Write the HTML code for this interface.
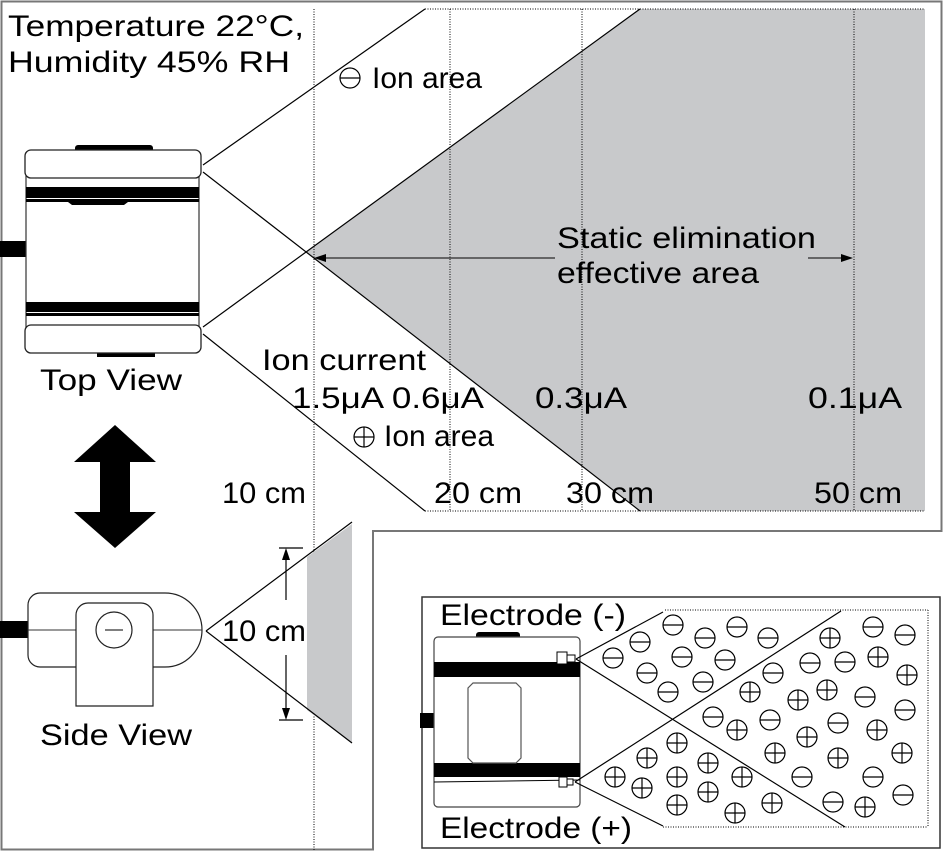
<!DOCTYPE html>
<html><head><meta charset="utf-8"><style>
html,body{margin:0;padding:0;background:#fff}
svg{display:block}
text{font-family:"Liberation Sans",Arial,sans-serif;fill:#000}
</style></head><body>
<svg width="944" height="851" viewBox="0 0 944 851" xmlns="http://www.w3.org/2000/svg">
<path d="M1.5 1.5 H941.5 V531 H373 V849.5 H1.5 Z" fill="#fff" stroke="#777" stroke-width="2"/>

<polygon points="306,252 640,9 925,9 925,511 640,511" fill="#c8c9cb"/>
<g stroke="#000" stroke-width="1" stroke-dasharray="1,1.5" fill="none">
<line x1="425" y1="9" x2="925" y2="9"/>
<line x1="425" y1="511" x2="925" y2="511"/>
<line x1="314" y1="9" x2="314" y2="850"/>
<line x1="450" y1="9" x2="450" y2="511"/>
<line x1="582" y1="9" x2="582" y2="511"/>
<line x1="854" y1="9" x2="854" y2="511"/>
</g>
<g stroke="#000" stroke-width="1.2" fill="none">
<line x1="203" y1="165" x2="425" y2="9"/>
<line x1="203" y1="172" x2="640" y2="511"/>
<line x1="203" y1="327" x2="640" y2="9"/>
<line x1="203" y1="334" x2="425" y2="511"/>
</g>
<g stroke="#444" stroke-width="1.5">
<line x1="322" y1="258" x2="555" y2="258"/>
<line x1="808" y1="258" x2="846" y2="258"/>
</g>
<polygon points="314,258 326,254 326,262" fill="#000"/>
<polygon points="853,258 841,254 841,262" fill="#000"/>

<g font-size="30">
<text x="8" y="36" textLength="296" lengthAdjust="spacingAndGlyphs">Temperature 22°C,</text>
<text x="8" y="72" textLength="282" lengthAdjust="spacingAndGlyphs">Humidity 45% RH</text>
<text x="557" y="248" textLength="259" lengthAdjust="spacingAndGlyphs">Static elimination</text>
<text x="557" y="283" textLength="202" lengthAdjust="spacingAndGlyphs">effective area</text>
<text x="262" y="370" textLength="164" lengthAdjust="spacingAndGlyphs">Ion current</text>
<text x="292" y="408" textLength="192" lengthAdjust="spacingAndGlyphs">1.5μA 0.6μA</text>
<text x="535" y="408" textLength="92" lengthAdjust="spacingAndGlyphs">0.3μA</text>
<text x="808" y="408" textLength="94" lengthAdjust="spacingAndGlyphs">0.1μA</text>
<text x="372" y="88" textLength="110" lengthAdjust="spacingAndGlyphs">Ion area</text>
<text x="384" y="446" textLength="110" lengthAdjust="spacingAndGlyphs">Ion area</text>
<text x="222" y="503" textLength="84" lengthAdjust="spacingAndGlyphs">10 cm</text>
<text x="434" y="503" textLength="88" lengthAdjust="spacingAndGlyphs">20 cm</text>
<text x="566" y="503" textLength="88" lengthAdjust="spacingAndGlyphs">30 cm</text>
<text x="814" y="503" textLength="88" lengthAdjust="spacingAndGlyphs">50 cm</text>
<text x="40" y="390" textLength="142" lengthAdjust="spacingAndGlyphs">Top View</text>
<text x="40" y="745" textLength="152" lengthAdjust="spacingAndGlyphs">Side View</text>
<text x="222" y="641" textLength="84" lengthAdjust="spacingAndGlyphs">10 cm</text>
</g>
<g stroke="#000" stroke-width="1.2" fill="none">
<circle cx="350" cy="78" r="10"/><line x1="340" y1="78" x2="360" y2="78"/>
<circle cx="364" cy="437" r="10"/><line x1="354" y1="437" x2="374" y2="437"/><line x1="364" y1="427" x2="364" y2="447"/>
</g>

<rect x="75" y="145" width="78" height="8" rx="3" fill="#000"/>
<rect x="97" y="348" width="58" height="9" fill="#000"/>
<rect x="0" y="241" width="27" height="16" fill="#000"/>
<rect x="26" y="176" width="173" height="152" fill="#fff" stroke="#333" stroke-width="1.2"/>
<rect x="26" y="187" width="173" height="11" fill="#000"/>
<rect x="26" y="199" width="173" height="3" fill="#000"/>
<rect x="26" y="302" width="173" height="10" fill="#000"/>
<rect x="26" y="313" width="173" height="3" fill="#000"/>
<path d="M68 202 L72 205 H124 L128 202 Z" fill="#000"/>
<rect x="25" y="150" width="176" height="28" rx="6" fill="#fff" stroke="#222" stroke-width="1.3"/>
<rect x="25" y="325" width="176" height="28" rx="6" fill="#fff" stroke="#222" stroke-width="1.3"/>

<polygon points="115,425 156,462 130,462 130,512 156,512 115,548 74,512 100,512 100,462 74,462" fill="#000"/>

<rect x="0" y="621" width="28" height="17" fill="#000"/>
<path d="M40 593 H165 A37 37 0 0 1 165 667 H40 A12 12 0 0 1 28 655 V605 A12 12 0 0 1 40 593 Z" fill="#fff" stroke="#222" stroke-width="1.2"/>
<line x1="28" y1="630" x2="202" y2="630" stroke="#333" stroke-width="1"/>
<path d="M76 706 V615 A12 12 0 0 1 88 603 H141 A12 12 0 0 1 153 615 V706 Z" fill="#fff" stroke="#222" stroke-width="1.2"/>
<circle cx="114" cy="630" r="18" fill="#fff" stroke="#222" stroke-width="1.2"/>
<line x1="105" y1="630" x2="123" y2="630" stroke="#333" stroke-width="1.2"/>
<polygon points="307,557 352,524 352,743 307,710" fill="#c8c9cb"/>
<g stroke="#000" stroke-width="1.2" fill="none">
<line x1="206" y1="631" x2="352" y2="522"/>
<line x1="206" y1="631" x2="352" y2="743"/>
<line x1="279" y1="548" x2="303" y2="548"/>
<line x1="279" y1="720" x2="303" y2="720"/>
<line x1="286" y1="556" x2="286" y2="600"/>
<line x1="286" y1="655" x2="286" y2="712"/>
</g>
<polygon points="286,548 282,560 290,560" fill="#000"/>
<polygon points="286,720 282,708 290,708" fill="#000"/>

<rect x="422" y="597" width="518" height="251" fill="#fff" stroke="#333" stroke-width="1.5"/>
<text x="440" y="625" font-size="30" textLength="186" lengthAdjust="spacingAndGlyphs">Electrode (-)</text>
<text x="440" y="838" font-size="30" textLength="192" lengthAdjust="spacingAndGlyphs">Electrode (+)</text>
<rect x="476" y="632" width="44" height="7" rx="3" fill="#000"/>
<rect x="420" y="713" width="14" height="15" fill="#000"/>
<rect x="434" y="637" width="146" height="170" rx="4" fill="#fff" stroke="#444" stroke-width="1.2"/>
<rect x="434" y="662" width="146" height="15" fill="#000"/>
<rect x="434" y="763" width="146" height="14" fill="#000"/>
<line x1="434" y1="782" x2="580" y2="780" stroke="#000" stroke-width="1"/>
<path d="M473 683 H516 L521 688 V758 L516 763 H473 L468 758 V688 Z" fill="#fff" stroke="#555" stroke-width="1.2"/>
<rect x="557" y="652" width="10" height="12" fill="#fff" stroke="#000"/>
<rect x="567" y="655" width="8" height="7" fill="#fff" stroke="#000"/>
<rect x="559" y="777" width="8" height="10" fill="#fff" stroke="#000"/>
<rect x="567" y="779" width="6" height="6" fill="#fff" stroke="#000"/>
<g stroke="#000" stroke-width="1" stroke-dasharray="1,1.5" fill="none">
<line x1="665" y1="610" x2="928" y2="610"/>
<line x1="928" y1="610" x2="928" y2="827"/>
<line x1="663" y1="827" x2="928" y2="827"/>
</g>
<g stroke="#000" stroke-width="1.2" fill="none">
<line x1="576" y1="659" x2="663" y2="612"/>
<line x1="576" y1="659" x2="845" y2="827"/>
<line x1="575" y1="782" x2="841" y2="611"/>
<line x1="575" y1="782" x2="663" y2="826"/>
</g>
<g stroke="#000" stroke-width="1.2" fill="#fff">
<g>
<circle cx="613" cy="658" r="10"/><line x1="603" y1="658" x2="623" y2="658"/>
<circle cx="640" cy="642" r="10"/><line x1="630" y1="642" x2="650" y2="642"/>
<circle cx="673" cy="625" r="10"/><line x1="663" y1="625" x2="683" y2="625"/>
<circle cx="705" cy="638" r="10"/><line x1="695" y1="638" x2="715" y2="638"/>
<circle cx="737" cy="627" r="10"/><line x1="727" y1="627" x2="747" y2="627"/>
<circle cx="768" cy="638" r="10"/><line x1="758" y1="638" x2="778" y2="638"/>
<circle cx="647" cy="673" r="10"/><line x1="637" y1="673" x2="657" y2="673"/>
<circle cx="682" cy="657" r="10"/><line x1="672" y1="657" x2="692" y2="657"/>
<circle cx="725" cy="660" r="10"/><line x1="715" y1="660" x2="735" y2="660"/>
<circle cx="668" cy="692" r="10"/><line x1="658" y1="692" x2="678" y2="692"/>
<circle cx="703" cy="682" r="10"/><line x1="693" y1="682" x2="713" y2="682"/>
<circle cx="810" cy="663" r="10"/><line x1="800" y1="663" x2="820" y2="663"/>
<circle cx="773" cy="673" r="10"/><line x1="763" y1="673" x2="783" y2="673"/>
<circle cx="845" cy="662" r="10"/><line x1="835" y1="662" x2="855" y2="662"/>
<circle cx="873" cy="627" r="10"/><line x1="863" y1="627" x2="883" y2="627"/>
<circle cx="905" cy="635" r="10"/><line x1="895" y1="635" x2="915" y2="635"/>
<circle cx="865" cy="697" r="10"/><line x1="855" y1="697" x2="875" y2="697"/>
<circle cx="905" cy="710" r="10"/><line x1="895" y1="710" x2="915" y2="710"/>
<circle cx="713" cy="717" r="10"/><line x1="703" y1="717" x2="723" y2="717"/>
<circle cx="770" cy="720" r="10"/><line x1="760" y1="720" x2="780" y2="720"/>
<circle cx="838" cy="723" r="10"/><line x1="828" y1="723" x2="848" y2="723"/>
<circle cx="802" cy="777" r="10"/><line x1="792" y1="777" x2="812" y2="777"/>
<circle cx="873" cy="777" r="10"/><line x1="863" y1="777" x2="883" y2="777"/>
<circle cx="833" cy="802" r="10"/><line x1="823" y1="802" x2="843" y2="802"/>
<circle cx="903" cy="795" r="10"/><line x1="893" y1="795" x2="913" y2="795"/>
</g>
<g>
<circle cx="830" cy="638" r="10"/><line x1="820" y1="638" x2="840" y2="638"/><line x1="830" y1="628" x2="830" y2="648"/>
<circle cx="878" cy="657" r="10"/><line x1="868" y1="657" x2="888" y2="657"/><line x1="878" y1="647" x2="878" y2="667"/>
<circle cx="907" cy="675" r="10"/><line x1="897" y1="675" x2="917" y2="675"/><line x1="907" y1="665" x2="907" y2="685"/>
<circle cx="750" cy="692" r="10"/><line x1="740" y1="692" x2="760" y2="692"/><line x1="750" y1="682" x2="750" y2="702"/>
<circle cx="798" cy="700" r="10"/><line x1="788" y1="700" x2="808" y2="700"/><line x1="798" y1="690" x2="798" y2="710"/>
<circle cx="827" cy="690" r="10"/><line x1="817" y1="690" x2="837" y2="690"/><line x1="827" y1="680" x2="827" y2="700"/>
<circle cx="737" cy="730" r="10"/><line x1="727" y1="730" x2="747" y2="730"/><line x1="737" y1="720" x2="737" y2="740"/>
<circle cx="807" cy="737" r="10"/><line x1="797" y1="737" x2="817" y2="737"/><line x1="807" y1="727" x2="807" y2="747"/>
<circle cx="877" cy="730" r="10"/><line x1="867" y1="730" x2="887" y2="730"/><line x1="877" y1="720" x2="877" y2="740"/>
<circle cx="775" cy="753" r="10"/><line x1="765" y1="753" x2="785" y2="753"/><line x1="775" y1="743" x2="775" y2="763"/>
<circle cx="838" cy="758" r="10"/><line x1="828" y1="758" x2="848" y2="758"/><line x1="838" y1="748" x2="838" y2="768"/>
<circle cx="902" cy="753" r="10"/><line x1="892" y1="753" x2="912" y2="753"/><line x1="902" y1="743" x2="902" y2="763"/>
<circle cx="677" cy="743" r="10"/><line x1="667" y1="743" x2="687" y2="743"/><line x1="677" y1="733" x2="677" y2="753"/>
<circle cx="647" cy="758" r="10"/><line x1="637" y1="758" x2="657" y2="758"/><line x1="647" y1="748" x2="647" y2="768"/>
<circle cx="615" cy="777" r="10"/><line x1="605" y1="777" x2="625" y2="777"/><line x1="615" y1="767" x2="615" y2="787"/>
<circle cx="642" cy="788" r="10"/><line x1="632" y1="788" x2="652" y2="788"/><line x1="642" y1="778" x2="642" y2="798"/>
<circle cx="677" cy="777" r="10"/><line x1="667" y1="777" x2="687" y2="777"/><line x1="677" y1="767" x2="677" y2="787"/>
<circle cx="708" cy="763" r="10"/><line x1="698" y1="763" x2="718" y2="763"/><line x1="708" y1="753" x2="708" y2="773"/>
<circle cx="742" cy="777" r="10"/><line x1="732" y1="777" x2="752" y2="777"/><line x1="742" y1="767" x2="742" y2="787"/>
<circle cx="677" cy="805" r="10"/><line x1="667" y1="805" x2="687" y2="805"/><line x1="677" y1="795" x2="677" y2="815"/>
<circle cx="708" cy="792" r="10"/><line x1="698" y1="792" x2="718" y2="792"/><line x1="708" y1="782" x2="708" y2="802"/>
<circle cx="735" cy="813" r="10"/><line x1="725" y1="813" x2="745" y2="813"/><line x1="735" y1="803" x2="735" y2="823"/>
<circle cx="772" cy="803" r="10"/><line x1="762" y1="803" x2="782" y2="803"/><line x1="772" y1="793" x2="772" y2="813"/>
<circle cx="865" cy="807" r="10"/><line x1="855" y1="807" x2="875" y2="807"/><line x1="865" y1="797" x2="865" y2="817"/>
</g>
</g>
</svg>
</body></html>
